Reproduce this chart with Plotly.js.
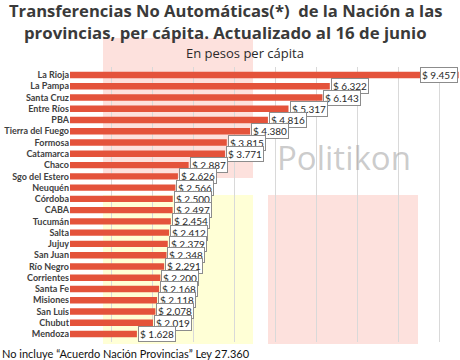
<!DOCTYPE html>
<html><head><meta charset="utf-8">
<script src="https://cdn.plot.ly/plotly-3.0.1.min.js"></script>
<style>html,body{margin:0;padding:0;background:#fff}#chart{width:460px;height:360px}</style>
</head><body><div id="chart"></div>
<script>
const provincias = ["La Rioja","La Pampa","Santa Cruz","Entre Ríos","PBA","Tierra del Fuego","Formosa","Catamarca","Chaco","Sgo del Estero","Neuquén","Córdoba","CABA","Tucumán","Salta","Jujuy","San Juan","Río Negro","Corrientes","Santa Fe","Misiones","San Luis","Chubut","Mendoza"];
const valores = [9457,6322,6143,5317,4816,4380,3815,3771,2887,2626,2566,2500,2497,2454,2412,2379,2348,2291,2200,2168,2118,2078,2019,1628];
const etiquetas = valores.map(v => "$ " + (v/1000).toFixed(3));
const titulo1 = "Transferencias No Automáticas(*)  de la Nación a las";
const titulo2 = "provincias, per cápita. Actualizado al 16 de junio";
const subtitulo = "En pesos per cápita";
const nota = "No incluye “Acuerdo Nación Provincias” Ley 27.360";
const marcaAgua = "Politikon";

const W = 460, H = 360, ml = 70, mr = 0, mt = 67, mb = 18;
const pw = W - ml - mr, ph = H - mt - mb;
function px(x){ return (x - ml) / pw; }
function py(y){ return 1 - (y - mt) / ph; }

function txt(x, y, text, font, xanchor){
  return {x: px(x), y: py(y), xref: 'paper', yref: 'paper', text: text, showarrow: false,
          xanchor: xanchor || 'center', yanchor: 'middle', font: font};
}

const annotations = valores.map((v,i) => ({
  x: v, y: provincias[i], xref: 'x', yref: 'y',
  text: etiquetas[i], showarrow: false,
  xanchor: i === 0 ? 'right' : 'left', yanchor: 'middle', xshift: i === 0 ? -1 : 1,
  font: {family: 'Lato, DejaVu Sans, sans-serif', size: 10, color: '#2a2a2a'},
  bgcolor: '#ffffff', bordercolor: '#8c8c8c', borderwidth: 1, borderpad: 1
}));

const layout = {
  width: W, height: H,
  margin: {l: ml, r: mr, t: mt, b: mb},
  paper_bgcolor: '#ffffff', plot_bgcolor: 'rgba(0,0,0,0)',
  showlegend: false,
  bargap: 0.43,
  xaxis: {range: [0, 9490], dtick: 1000, showgrid: true, gridcolor: '#d9d9d9', gridwidth: 1,
          showticklabels: false, zeroline: false, showline: false, ticks: ''},
  yaxis: {categoryorder: 'array', categoryarray: provincias, autorange: 'reversed',
          showgrid: false, zeroline: false, showline: false, ticks: '', ticklen: 0,
          tickfont: {family: 'Lato, DejaVu Sans, sans-serif', size: 9, color: '#404040', weight: 'bold'}},
  shapes: [
    {type: 'rect', xref: 'paper', yref: 'paper', x0: px(103), x1: px(253), y0: py(178), y1: py(38), fillcolor: '#fde1dd', line: {width: 0}, layer: 'below'},
    {type: 'rect', xref: 'paper', yref: 'paper', x0: px(103), x1: px(253), y0: py(344), y1: py(195), fillcolor: '#ffffd6', line: {width: 0}, layer: 'below'},
    {type: 'rect', xref: 'paper', yref: 'paper', x0: px(268), x1: px(418), y0: py(344), y1: py(195), fillcolor: '#fde1dd', line: {width: 0}, layer: 'below'}
  ],
  annotations: [
    txt(344, 157, marcaAgua, {family: 'Open Sans, sans-serif', size: 33, color: 'rgba(160,160,160,0.55)'})
  ].concat(annotations).concat([
    txt(225, 10, '<b>' + titulo1 + '</b>', {family: 'Open Sans, DejaVu Sans, sans-serif', size: 16.6, color: '#3a3a3a'}),
    txt(225, 32, '<b>' + titulo2 + '</b>', {family: 'Open Sans, DejaVu Sans, sans-serif', size: 16.8, color: '#3a3a3a'}),
    txt(245, 53, subtitulo, {family: 'Open Sans, DejaVu Sans, sans-serif', size: 13, color: '#2a2a2a'}),
    txt(0, 353, nota, {family: 'Lato, DejaVu Sans, sans-serif', size: 11, color: '#111'}, 'left')
  ])
};

Plotly.newPlot('chart', [{
  type: 'bar', orientation: 'h', x: valores, y: provincias,
  marker: {color: '#e4533b'}, hoverinfo: 'none'
}], layout, {displayModeBar: false, staticPlot: true});
</script></body></html>
